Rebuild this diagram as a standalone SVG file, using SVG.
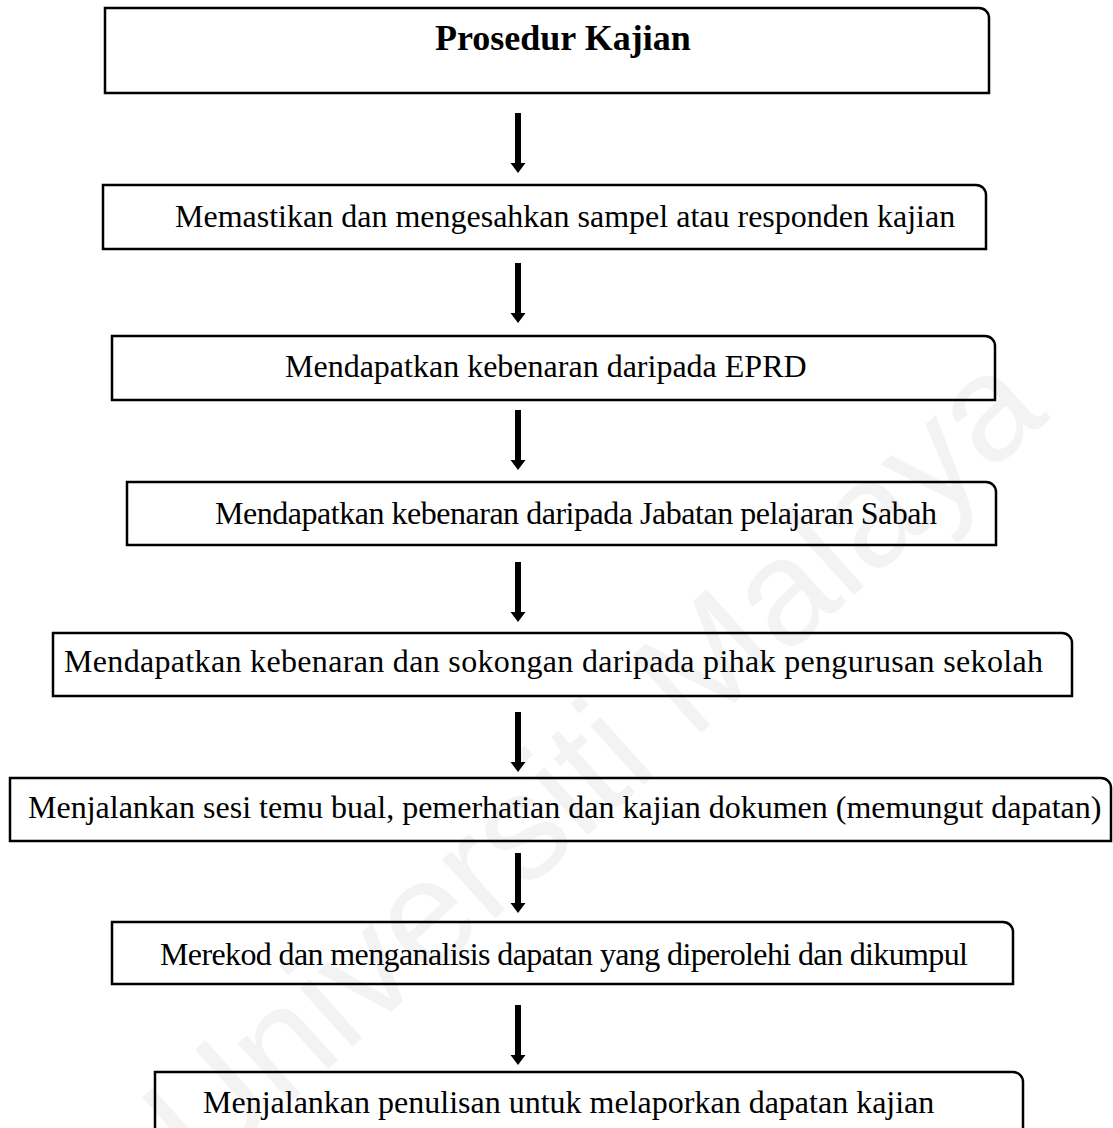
<svg xmlns="http://www.w3.org/2000/svg" width="1113" height="1128" viewBox="0 0 1113 1128">
  <style>
    .box { fill: none; stroke: #000; stroke-width: 2.5; }
    .lbl { font-family: "Liberation Serif", "Times New Roman", serif; font-size: 32px; fill: #000; }
    .title { font-weight: bold; font-size: 36px; }
    .wm { font-family: "Liberation Sans", Arial, sans-serif; font-size: 150px; fill: #f3f3f3; }
    .shaft { fill: #000; }
    .head { fill: #000; }
  </style>
  <defs>
    <!-- downward block arrow, tip at (0,0) -->
    <g id="down-arrow">
      <rect class="shaft" x="-3" y="-60" width="6" height="51"/>
      <path class="head" d="M-7.5,-10 L7.5,-10 L0,0 Z"/>
    </g>
  </defs>

  <rect width="1113" height="1128" fill="#fff"/>

  <!-- background watermark -->
  <text class="wm" x="600" y="810" text-anchor="middle" transform="rotate(-42 600 770)">Universiti Malaya</text>

  <!-- connectors -->
  <g id="connectors">
    <use href="#down-arrow" x="518" y="173"/>
    <use href="#down-arrow" x="518" y="323"/>
    <use href="#down-arrow" x="518" y="470"/>
    <use href="#down-arrow" x="518" y="622"/>
    <use href="#down-arrow" x="518" y="772"/>
    <use href="#down-arrow" x="518" y="913"/>
    <use href="#down-arrow" x="518" y="1065"/>
  </g>

  <!-- process steps -->
  <g id="step-prosedur">
    <path class="box" d="M105,8 H979 A10,10 0 0 1 989,18 V93 H105 Z"/>
    <text class="lbl title" x="435" y="50">Prosedur Kajian</text>
  </g>
  <g id="step-sampel">
    <path class="box" d="M103,185 H976 A10,10 0 0 1 986,195 V249 H103 Z"/>
    <text class="lbl" x="175" y="227">Memastikan dan mengesahkan sampel atau responden kajian</text>
  </g>
  <g id="step-eprd">
    <path class="box" d="M112,336 H985 A10,10 0 0 1 995,346 V400 H112 Z"/>
    <text class="lbl" x="285" y="377">Mendapatkan kebenaran daripada EPRD</text>
  </g>
  <g id="step-jabatan">
    <path class="box" d="M127,482 H986 A10,10 0 0 1 996,492 V545 H127 Z"/>
    <text class="lbl" x="215" y="524" textLength="722" lengthAdjust="spacing">Mendapatkan kebenaran daripada Jabatan pelajaran Sabah</text>
  </g>
  <g id="step-sekolah">
    <path class="box" d="M53,633 H1062 A10,10 0 0 1 1072,643 V696 H53 Z"/>
    <text class="lbl" x="64" y="672" textLength="979" lengthAdjust="spacing">Mendapatkan kebenaran dan sokongan daripada pihak pengurusan sekolah</text>
  </g>
  <g id="step-dapatan">
    <path class="box" d="M10,778 H1101 A10,10 0 0 1 1111,788 V841 H10 Z"/>
    <text class="lbl" x="28" y="818">Menjalankan sesi temu bual, pemerhatian dan kajian dokumen (memungut dapatan)</text>
  </g>
  <g id="step-analisis">
    <path class="box" d="M112,922 H1003 A10,10 0 0 1 1013,932 V984 H112 Z"/>
    <text class="lbl" x="160" y="965" textLength="808" lengthAdjust="spacing">Merekod dan menganalisis dapatan yang diperolehi dan dikumpul</text>
  </g>
  <g id="step-laporan">
    <path class="box" d="M155,1140 V1072 H1013 A10,10 0 0 1 1023,1082 V1140"/>
    <text class="lbl" x="203" y="1113">Menjalankan penulisan untuk melaporkan dapatan kajian</text>
  </g>
</svg>
